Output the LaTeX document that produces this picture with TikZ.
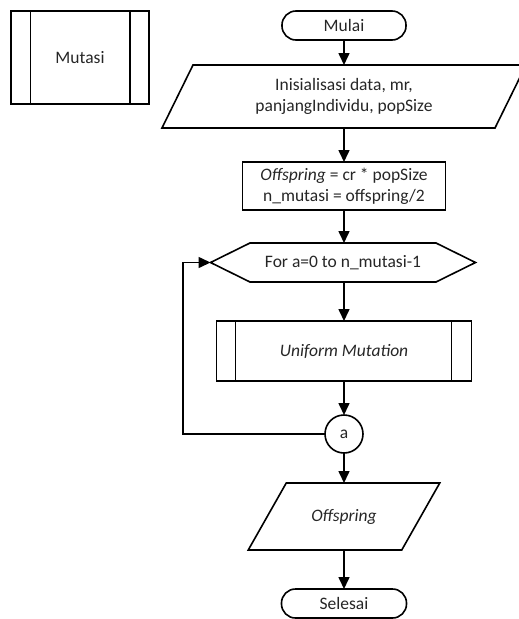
\documentclass[tikz,border=0pt]{standalone}
\usepackage{fontspec}
\setmainfont{Carlito}
\usetikzlibrary{calc,arrows.meta}
\begin{document}
\begin{tikzpicture}[x=1pt,y=-1pt,
  every node/.style={font=\fontsize{17.5}{21}\selectfont, text=black!85, inner sep=0pt, outer sep=0pt, align=center},
  ln/.style={line width=1.6pt, draw=black},
  arr/.style={ln, -{Triangle[length=12pt,width=11pt]}},
  box/.style={ln, rectangle, minimum width=#1},
  term/.style={ln, rectangle, rounded corners=14pt, minimum height=29pt, minimum width=#1},
  ghost/.style={rectangle}
]
\useasboundingbox (0,0) rectangle (519,619);
\clip (0,0) rectangle (519,619);

% legend box
\node[box=138pt, minimum height=93pt] (mut) at (80,57.5) {Mutasi};
\draw[ln] ($(mut.north west)+(19.5,0)$) -- ($(mut.south west)+(19.5,0)$);
\draw[ln] ($(mut.north east)-(19,0)$) -- ($(mut.south east)-(19,0)$);

% start
\node[term=124pt] (mulai) at (344,25.5) {Mulai};

% input parallelogram
\node[ghost, minimum width=364pt, minimum height=63pt] (in1) at (344,96.5) {Inisialisasi data, mr,\\panjangIndividu, popSize};
\draw[ln] ($(in1.north west)+(31,0)$) -- (in1.north east) -- ($(in1.south east)-(31,0)$) -- (in1.south west) -- cycle;

% process
\node[box=203pt, minimum height=48pt] (calc) at (344,186) {\textit{Offspring} = cr * popSize\\n\_mutasi = offspring/2};

% loop hexagon
\node[ghost, minimum width=265pt, minimum height=39pt] (hex) at (343,262.5) {For a=0 to n\_mutasi-1};
\draw[ln] (hex.west) -- ($(hex.north west)+(39.5,0)$) -- ($(hex.north east)-(39.5,0)$) -- (hex.east) -- ($(hex.south east)-(39.5,0)$) -- ($(hex.south west)+(39.5,0)$) -- cycle;

% predefined process
\node[box=255pt, minimum height=60pt] (unif) at (344,351) {\textit{Uniform Mutation}};
\draw[ln] ($(unif.north west)+(19,0)$) -- ($(unif.south west)+(19,0)$);
\draw[ln] ($(unif.north east)-(20,0)$) -- ($(unif.south east)-(20,0)$);

% connector
\node[ln, circle, minimum size=38pt] (a) at (344,434) {a};

% output parallelogram
\node[ghost, minimum width=191.5pt, minimum height=67pt] (off) at (344,516.5) {\textit{Offspring}};
\draw[ln] ($(off.north west)+(38,0)$) -- (off.north east) -- ($(off.south east)-(38,0)$) -- (off.south west) -- cycle;

% end
\node[term=125pt] (sel) at (344,603.5) {Selesai};

\coordinate (lp) at (182.7,434);

\draw[arr] (mulai) -- (in1);
\draw[arr] (in1) -- (calc);
\draw[arr] (calc) -- (calc |- hex.north);
\draw[arr] (unif |- hex.south) -- (unif);
\draw[arr] (unif) -- (a);
\draw[arr] (a) -- (off);
\draw[arr] (off) -- (sel);
\draw[arr] (a.west) -- (lp) |- (hex.west);
\end{tikzpicture}
\end{document}
